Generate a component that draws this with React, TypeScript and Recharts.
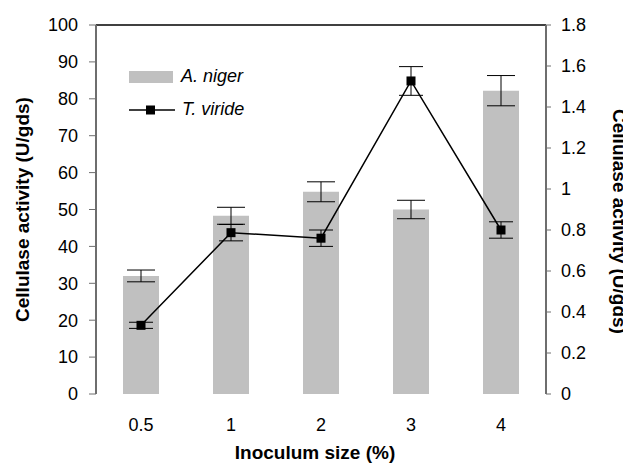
import React from 'react';
import {
  ComposedChart, Bar, Line, XAxis, YAxis, ErrorBar, Legend, ReferenceLine,
} from 'recharts';

const FONT = '"Liberation Sans", Arial, sans-serif';

const inoculumSizes = ['0.5', '1', '2', '3', '4'];
const nigerActivity = [32, 48.3, 54.8, 50, 82.2];
const nigerError = [1.6, 2.3, 2.7, 2.5, 4.1];
const virideActivity = [0.335, 0.787, 0.76, 1.527, 0.8];
const virideError = [0.015, 0.04, 0.04, 0.07, 0.04];

const leftTicks = [0, 10, 20, 30, 40, 50, 60, 70, 80, 90, 100];
const rightTicks = [0, 0.2, 0.4, 0.6, 0.8, 1, 1.2, 1.4, 1.6, 1.8];
const boundaryTicks = [0, 1, 2, 3, 4, 5];

const data = inoculumSizes.map((size, i) => ({
  size,
  niger: nigerActivity[i],
  nigerErr: nigerError[i],
  viride: virideActivity[i],
  virideErr: virideError[i],
}));

const AXIS = '#6e6e6e';

const SquareDot = (props: any) => {
  const { cx, cy, index } = props;
  return <rect key={`sq-${index}`} x={cx - 4.5} y={cy - 4.5} width={9} height={9} fill="#000" />;
};

const renderLegend = () => (
  <div style={{ fontFamily: FONT, fontSize: 18, fontStyle: 'italic', color: '#000' }}>
    <div style={{ display: 'flex', alignItems: 'center', height: 33 }}>
      <svg width={52} height={14} style={{ display: 'block' }}>
        <rect x={0} y={1} width={44} height={12} fill="#c0c0c0" />
      </svg>
      <span>A. niger</span>
    </div>
    <div style={{ display: 'flex', alignItems: 'center', height: 33 }}>
      <svg width={53} height={14} style={{ display: 'block' }}>
        <line x1={0} y1={7} x2={46} y2={7} stroke="#000" strokeWidth={1.5} />
        <rect x={17} y={2.5} width={9} height={9} fill="#000" />
      </svg>
      <span>T. viride</span>
    </div>
  </div>
);

const tickStyle = { fontFamily: FONT, fontSize: 18, fill: '#000' };
const titleStyle = { fontFamily: FONT, fontSize: 19, fontWeight: 'bold', fill: '#000', textAnchor: 'middle' as const };

export default function App() {
  return (
    <ComposedChart
      width={623}
      height={458}
      data={data}
      margin={{ top: 17, right: 0, bottom: 0, left: 0 }}
    >
      <XAxis
        xAxisId="edge"
        type="number"
        domain={[0, 5]}
        ticks={boundaryTicks}
        allowDataOverflow
        height={0}
        tick={false}
        tickSize={6}
        axisLine={{ stroke: AXIS, strokeWidth: 2 }}
        tickLine={{ stroke: AXIS, strokeWidth: 1 }}
      />
      <XAxis
        xAxisId="cat"
        dataKey="size"
        height={72}
        axisLine={false}
        tickLine={false}
        tickSize={6}
        tickMargin={18}
        tick={tickStyle}
        label={{ value: 'Inoculum size (%)', position: 'insideBottom', offset: 7, dx: -6, style: titleStyle }}
      />
      <YAxis
        yAxisId="left"
        domain={[0, 100]}
        ticks={leftTicks}
        width={88}
        tickSize={7}
        tickMargin={11}
        tick={tickStyle}
        axisLine={{ stroke: AXIS, strokeWidth: 2 }}
        tickLine={{ stroke: AXIS }}
        label={{ value: 'Cellulase activity (U/gds)', angle: -90, position: 'insideLeft', offset: 14, style: titleStyle }}
      />
      <YAxis
        yAxisId="right"
        orientation="right"
        domain={[0, 1.8]}
        ticks={rightTicks}
        width={85}
        tickSize={5}
        tickMargin={10}
        tick={tickStyle}
        axisLine={{ stroke: AXIS, strokeWidth: 2 }}
        tickLine={{ stroke: AXIS }}
        label={{ value: 'Cellulase activity (U/gds)', angle: 90, position: 'insideRight', offset: 11, dy: 12, style: titleStyle }}
      />
      <ReferenceLine yAxisId="left" xAxisId="cat" y={100} stroke="#000" strokeWidth={1.5} />
      <Legend
        content={renderLegend}
        layout="horizontal"
        verticalAlign="middle"
        align="center"
        wrapperStyle={{ position: 'absolute', left: 121, top: 52, width: 'auto' }}
      />
      <Bar
        xAxisId="cat"
        yAxisId="left"
        dataKey="niger"
        name="A. niger"
        fill="#c0c0c0"
        barSize={36}
        isAnimationActive={false}
      >
        <ErrorBar dataKey="nigerErr" width={14} stroke="#000" strokeWidth={1} direction="y" />
      </Bar>
      <Line
        xAxisId="cat"
        yAxisId="right"
        dataKey="viride"
        name="T. viride"
        stroke="#000"
        strokeWidth={1.5}
        dot={SquareDot}
        activeDot={false}
        isAnimationActive={false}
      >
        <ErrorBar dataKey="virideErr" width={12} stroke="#000" strokeWidth={1} direction="y" />
      </Line>
    </ComposedChart>
  );
}
